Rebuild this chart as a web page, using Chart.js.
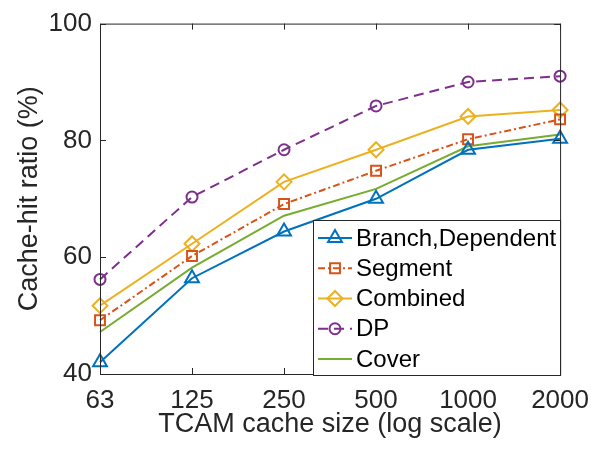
<!DOCTYPE html>
<html>
<head>
<meta charset="utf-8">
<script src="https://cdn.jsdelivr.net/npm/chart.js@4.4.0/dist/chart.umd.min.js"></script>
<style>
	html, body { margin: 0; padding: 0; background: #fff; }
</style>
</head>
<body>
<canvas id="cache-hit" width="600" height="449"></canvas>
<script>
const cacheSizes = ['63', '125', '250', '500', '1000', '2000'];
const branchDependent = [42.0, 56.4, 64.4, 70.0, 78.4, 80.3];
const segment = [49.2, 60.2, 69.1, 74.8, 80.2, 83.6];
const combined = [51.7, 62.3, 72.9, 78.4, 84.1, 85.2];
const dp = [56.2, 70.3, 78.4, 85.9, 90.0, 91.0];
const cover = [47.2, 58.2, 67.1, 71.7, 79.0, 81.0];
const yTicks = [40, 60, 80, 100];

const FONT = "'Liberation Sans', Arial, Helvetica, sans-serif";
const AXIS = '#262626';

// box around the plot with inward ticks, like matlab
const boxPlugin = {
	id: 'box',
	afterDatasetsDraw(chart) {
		const {ctx, chartArea: a, scales: {x, y}} = chart;
		ctx.save();
		ctx.strokeStyle = AXIS;
		ctx.lineWidth = 1;
		ctx.beginPath();
		ctx.rect(a.left + 0.5, a.top + 0.5, a.right - a.left, a.bottom - a.top);
		for (let i = 0; i < cacheSizes.length; i++) {
			const px = Math.round(x.getPixelForValue(i)) + 0.5;
			ctx.moveTo(px, a.bottom); ctx.lineTo(px, a.bottom - 6);
			ctx.moveTo(px, a.top); ctx.lineTo(px, a.top + 6);
		}
		yTicks.forEach(v => {
			const py = Math.round(y.getPixelForValue(v)) + 0.5;
			ctx.moveTo(a.left, py); ctx.lineTo(a.left + 6, py);
			ctx.moveTo(a.right, py); ctx.lineTo(a.right - 6, py);
		});
		ctx.stroke();
		ctx.restore();
	}
};

// legend drawn inside the axes (south east)
const insideLegend = {
	id: 'insideLegend',
	afterDraw(chart) {
		const {ctx, chartArea: a} = chart;
		const x0 = 313, y0 = 220, x1 = a.right, y1 = 375;
		ctx.save();
		ctx.fillStyle = '#fff';
		ctx.fillRect(x0, y0, x1 - x0, y1 - y0);
		ctx.strokeStyle = AXIS;
		ctx.lineWidth = 1;
		ctx.strokeRect(x0 + 0.5, y0 + 0.5, x1 - x0, y1 - y0);
		chart.data.datasets.forEach((ds, i) => {
			const cy = 238 + i * 30.25;
			ctx.strokeStyle = ds.borderColor;
			ctx.lineWidth = ds.borderWidth;
			ctx.setLineDash(ds.borderDash || []);
			ctx.beginPath();
			ctx.moveTo(318, cy); ctx.lineTo(352, cy);
			ctx.stroke();
			ctx.setLineDash([]);
			if (ds.pointRadius > 0) {
				ctx.fillStyle = 'rgba(0,0,0,0)';
				Chart.helpers.drawPoint(ctx, {
					pointStyle: ds.pointStyle,
					radius: ds.pointRadius,
					rotation: 0,
					borderWidth: ds.pointBorderWidth
				}, 335, cy);
			}
			ctx.fillStyle = '#000';
			ctx.font = '24px ' + FONT;
			ctx.textBaseline = 'middle';
			ctx.textAlign = 'left';
			ctx.fillText(ds.label, 356, cy + 1);
		});
		ctx.restore();
	}
};

function series(label, data, color, style, radius, dash) {
	return {
		label: label,
		data: data,
		borderColor: color,
		backgroundColor: color,
		borderWidth: 2,
		borderDash: dash,
		pointStyle: style,
		pointRadius: radius,
		pointBorderWidth: 2,
		pointBorderColor: color,
		pointBackgroundColor: 'rgba(0,0,0,0)',
		tension: 0
	};
}

new Chart(document.getElementById('cache-hit'), {
	type: 'line',
	data: {
		labels: cacheSizes,
		datasets: [
			series('Branch,Dependent', branchDependent, '#0072BD', 'triangle', 8, []),
			series('Segment', segment, '#D95319', 'rect', 7, [7, 3, 2, 3]),
			series('Combined', combined, '#EDB120', 'rectRot', 7.5, []),
			series('DP', dp, '#7E2F8E', 'circle', 5.5, [10, 6]),
			series('Cover', cover, '#77AC30', 'circle', 0, [])
		]
	},
	options: {
		responsive: false,
		animation: false,
		layout: { padding: { left: 0, right: 31, top: 20, bottom: 0 } },
		plugins: {
			legend: { display: false },
			tooltip: { enabled: false }
		},
		scales: {
			x: {
				offset: false,
				grid: { display: false, drawTicks: false },
				border: { display: false },
				ticks: {
					autoSkip: false,
					maxRotation: 0,
					padding: 11,
					color: AXIS,
					font: { family: FONT, size: 26 }
				},
				title: {
					display: true,
					text: 'TCAM cache size (log scale)',
					color: AXIS,
					padding: { top: 0, bottom: 8 },
					font: { family: FONT, size: 27 }
				},
				afterFit(scale) { scale.height = 75; }
			},
			y: {
				min: 40,
				max: 100,
				grid: { display: false, drawTicks: false },
				border: { display: false },
				afterBuildTicks(scale) { scale.ticks = yTicks.map(v => ({ value: v })); },
				ticks: {
					padding: 8,
					color: AXIS,
					font: { family: FONT, size: 26 }
				},
				title: {
					display: true,
					text: 'Cache-hit ratio (%)',
					color: AXIS,
					padding: { top: 13, bottom: 0 },
					font: { family: FONT, size: 27 }
				},
				afterFit(scale) { scale.width = 100; }
			}
		}
	},
	plugins: [boxPlugin, insideLegend]
});
</script>
</body>
</html>
